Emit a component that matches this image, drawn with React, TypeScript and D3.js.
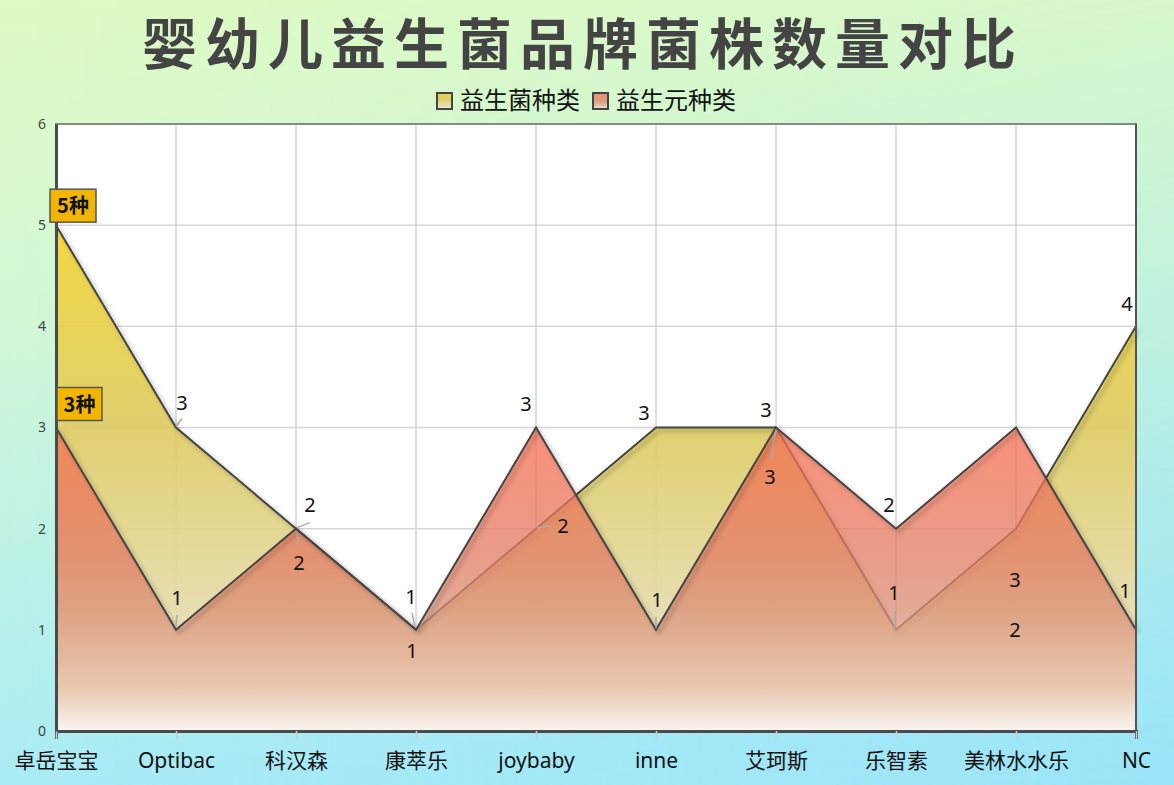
import * as d3 from 'd3';
import { useEffect, useRef } from 'react';

// chart data
const brands = ['卓岳宝宝', 'Optibac', '科汉森', '康萃乐', 'joybaby', 'inne', '艾珂斯', '乐智素', '美林水水乐', 'NC'];
const probioticCounts = [5, 3, 2, 1, 2, 3, 3, 1, 2, 4];
const prebioticCounts = [3, 1, 2, 1, 3, 1, 3, 2, 3, 1];
const seriesNames = ['益生菌种类', '益生元种类'];
const yTicks = [0, 1, 2, 3, 4, 5, 6];

// label layout (offset of label centre from its point, optional leader line)
type LabelPos = { dx: number; dy: number; leader?: [number, number, number, number] };
const probioticLabelPos: LabelPos[] = [
  { dx: 0, dy: 0 },
  { dx: 6, dy: -25, leader: [0, -1, 6, -9] },
  { dx: 14, dy: -24, leader: [1, -1, 14, -6] },
  { dx: -5, dy: -33, leader: [-1, -3, -4, -17] },
  { dx: 27, dy: -3, leader: [1, -1, 15, -3] },
  { dx: -12, dy: -15 },
  { dx: -10, dy: -18 },
  { dx: -2, dy: -37, leader: [-1, -2, -1, -18] },
  { dx: -1, dy: 101 },
  { dx: -9, dy: -23 },
];
const prebioticLabelPos: LabelPos[] = [
  { dx: 0, dy: 0 },
  { dx: 1, dy: -32, leader: [0, -4, 1, -15] },
  { dx: 3, dy: 34, leader: [1, 4, 2, 18] },
  { dx: -4, dy: 21 },
  { dx: -10, dy: -24 },
  { dx: 1, dy: -30, leader: [0, -2, 0, -13] },
  { dx: -6, dy: 49, leader: [0, 2, -5, 32] },
  { dx: -7, dy: -24 },
  { dx: -1, dy: 152 },
  { dx: -11, dy: -39 },
];

const W = 1174;
const H = 785;
const M = { left: 56, right: 1136, top: 124, bottom: 731 };
const FONT = '"Noto Sans", "Noto Sans CJK SC", sans-serif';
const CJK = '"Noto Sans CJK SC", "Noto Sans", sans-serif';

export default function App() {
  const ref = useRef<SVGSVGElement>(null);

  useEffect(() => {
    if (!ref.current) return;
    const svg = d3.select(ref.current);
    svg.selectAll('*').remove();

    const defs = svg.append('defs');

    // page background: mostly vertical green -> cyan, a bit bluer to the right
    const bg = defs.append('linearGradient').attr('id', 'bgV').attr('x1', 0).attr('y1', 0).attr('x2', 0.08).attr('y2', 1);
    bg.append('stop').attr('offset', 0).attr('stop-color', '#e0fbc4');
    bg.append('stop').attr('offset', 0.4).attr('stop-color', '#d2f8d6');
    bg.append('stop').attr('offset', 1).attr('stop-color', '#aaecf6');
    const bgH = defs.append('linearGradient').attr('id', 'bgH').attr('x1', 0).attr('y1', 0).attr('x2', 1).attr('y2', 0);
    bgH.append('stop').attr('offset', 0).attr('stop-color', '#7ad6ff').attr('stop-opacity', 0);
    bgH.append('stop').attr('offset', 1).attr('stop-color', '#7ad6ff').attr('stop-opacity', 0.3);
    const bgMask = defs.append('linearGradient').attr('id', 'bgMaskG').attr('x1', 0).attr('y1', 0).attr('x2', 0).attr('y2', 1);
    bgMask.append('stop').attr('offset', 0).attr('stop-color', '#fff').attr('stop-opacity', 0.2);
    bgMask.append('stop').attr('offset', 1).attr('stop-color', '#fff').attr('stop-opacity', 1);
    defs
      .append('mask')
      .attr('id', 'bgMask')
      .append('rect')
      .attr('width', W)
      .attr('height', H)
      .attr('fill', 'url(#bgMaskG)');

    // series gradients
    const gy = defs.append('linearGradient').attr('id', 'gYellow').attr('x1', 0).attr('y1', 0).attr('x2', 0).attr('y2', 1);
    [
      [0, 'rgb(240,213,52)'],
      [0.4, 'rgb(221,204,100)'],
      [0.8, 'rgb(230,221,178)'],
      [1, 'rgb(242,238,226)'],
    ].forEach(([o, c]) => gy.append('stop').attr('offset', o).attr('stop-color', c as string).attr('stop-opacity', 0.93));

    const gr = defs.append('linearGradient').attr('id', 'gRed').attr('x1', 0).attr('y1', 0).attr('x2', 0).attr('y2', 1);
    [
      [0, 'rgb(247,110,80)'],
      [0.43, 'rgb(226,124,100)'],
      [0.6, 'rgb(219,143,117)'],
      [0.86, 'rgb(231,190,167)'],
      [1, 'rgb(252,248,244)'],
    ].forEach(([o, c]) => gr.append('stop').attr('offset', o).attr('stop-color', c as string).attr('stop-opacity', 0.76));

    const shadow = defs.append('filter').attr('id', 'lineShadow').attr('x', '-10%').attr('y', '-10%').attr('width', '120%').attr('height', '120%');
    shadow.append('feDropShadow').attr('dx', 3).attr('dy', 3).attr('stdDeviation', 2).attr('flood-color', '#000').attr('flood-opacity', 0.3);

    svg.append('rect').attr('width', W).attr('height', H).attr('fill', 'url(#bgV)');
    svg.append('rect').attr('width', W).attr('height', H).attr('fill', 'url(#bgH)').attr('mask', 'url(#bgMask)');

    const x = d3.scalePoint<string>().domain(brands).range([M.left, M.right]);
    const y = d3.scaleLinear().domain([0, 6]).range([M.bottom, M.top]);

    // title
    svg
      .append('text')
      .attr('x', 583)
      .attr('y', 64)
      .attr('text-anchor', 'middle')
      .attr('font-family', CJK)
      .attr('font-weight', 700)
      .attr('font-size', 55)
      .attr('letter-spacing', 8)
      .attr('fill', '#444')
      .text('婴幼儿益生菌品牌菌株数量对比');

    // legend
    const legend = svg.append('g');
    const legendItems = [
      { name: seriesNames[0], fill: 'url(#gYellow)', x: 436 },
      { name: seriesNames[1], fill: 'url(#gRed)', x: 592 },
    ];
    legendItems.forEach((d) => {
      legend
        .append('rect')
        .attr('x', d.x + 1)
        .attr('y', 93)
        .attr('width', 15)
        .attr('height', 16)
        .attr('fill', d.fill)
        .attr('stroke', '#444')
        .attr('stroke-width', 2);
      legend
        .append('text')
        .attr('x', d.x + 24)
        .attr('y', 109)
        .attr('font-family', CJK)
        .attr('font-size', 24)
        .attr('fill', '#111')
        .text(d.name);
    });

    // plot background and grid
    svg
      .append('rect')
      .attr('x', M.left)
      .attr('y', M.top)
      .attr('width', M.right - M.left)
      .attr('height', M.bottom - M.top)
      .attr('fill', '#fff');

    const grid = svg.append('g').attr('stroke', '#d6d6d6').attr('stroke-width', 1.5);
    yTicks.forEach((t) => {
      grid.append('line').attr('x1', M.left).attr('x2', M.right).attr('y1', y(t)).attr('y2', y(t));
    });
    brands.forEach((b) => {
      grid.append('line').attr('x1', x(b)!).attr('x2', x(b)!).attr('y1', M.top).attr('y2', M.bottom);
    });

    const area = d3
      .area<number>()
      .x((_, i) => x(brands[i])!)
      .y0(y(0))
      .y1((d) => y(d));
    const line = d3
      .line<number>()
      .x((_, i) => x(brands[i])!)
      .y((d) => y(d));

    svg.append('path').attr('d', area(probioticCounts)!).attr('fill', 'url(#gYellow)');
    svg
      .append('path')
      .attr('d', line(probioticCounts)!)
      .attr('fill', 'none')
      .attr('stroke', '#444')
      .attr('stroke-width', 2)
      .attr('filter', 'url(#lineShadow)');

    svg.append('path').attr('d', area(prebioticCounts)!).attr('fill', 'url(#gRed)');
    svg
      .append('path')
      .attr('d', line(prebioticCounts)!)
      .attr('fill', 'none')
      .attr('stroke', '#444')
      .attr('stroke-width', 2)
      .attr('filter', 'url(#lineShadow)');

    // frame and axes
    svg
      .append('rect')
      .attr('x', M.left)
      .attr('y', M.top)
      .attr('width', M.right - M.left)
      .attr('height', M.bottom - M.top)
      .attr('fill', 'none')
      .attr('stroke', '#888')
      .attr('stroke-width', 2);
    svg
      .append('line')
      .attr('x1', M.right)
      .attr('x2', M.right)
      .attr('y1', M.top)
      .attr('y2', M.bottom)
      .attr('stroke', '#555')
      .attr('stroke-width', 2);

    const xAxis = svg
      .append('g')
      .attr('transform', `translate(0,${M.bottom})`)
      .call(d3.axisBottom(x).tickSize(8).tickPadding(14));
    xAxis.select('.domain').attr('stroke', '#4a4a4a').attr('stroke-width', 3);
    xAxis.selectAll('.tick line').attr('stroke', '#ccc').attr('stroke-width', 1.5);
    xAxis
      .selectAll('.tick text')
      .attr('font-family', FONT)
      .attr('font-size', 21)
      .attr('fill', '#111');

    const yAxis = svg
      .append('g')
      .attr('transform', `translate(${M.left},0)`)
      .call(d3.axisLeft(y).tickValues(yTicks).tickFormat(d3.format('d')).tickSize(0).tickPadding(10));
    yAxis.select('.domain').attr('stroke', '#4a4a4a').attr('stroke-width', 3);
    yAxis
      .selectAll('.tick text')
      .attr('font-family', FONT)
      .attr('font-size', 14)
      .attr('fill', '#444');

    // data labels
    const labels = svg.append('g');
    const drawLabels = (values: number[], pos: LabelPos[]) => {
      values.forEach((v, i) => {
        if (i === 0) return;
        const px = x(brands[i])!;
        const py = y(v);
        const p = pos[i];
        if (p.leader) {
          labels
            .append('line')
            .attr('x1', px + p.leader[0])
            .attr('y1', py + p.leader[1])
            .attr('x2', px + p.leader[2])
            .attr('y2', py + p.leader[3])
            .attr('stroke', '#aaa')
            .attr('stroke-width', 1.5);
        }
        labels
          .append('text')
          .attr('x', px + p.dx)
          .attr('y', py + p.dy)
          .attr('dy', '0.36em')
          .attr('text-anchor', 'middle')
          .attr('font-family', FONT)
          .attr('font-size', 20)
          .attr('fill', '#111')
          .text(v);
      });
    };
    drawLabels(probioticCounts, probioticLabelPos);
    drawLabels(prebioticCounts, prebioticLabelPos);

    // badges on the first brand
    const badges = [
      { v: probioticCounts[0], dx: -6, dy: -36, w: 46 },
      { v: prebioticCounts[0], dx: 1, dy: -40, w: 45 },
    ];
    badges.forEach((b) => {
      const px = x(brands[0])!;
      const py = y(b.v);
      labels
        .append('rect')
        .attr('x', px + b.dx)
        .attr('y', py + b.dy)
        .attr('width', b.w)
        .attr('height', 33)
        .attr('fill', '#f2b600')
        .attr('stroke', '#555')
        .attr('stroke-width', 1.5);
      labels
        .append('text')
        .attr('x', px + b.dx + b.w / 2)
        .attr('y', py + b.dy + 17)
        .attr('dy', '0.36em')
        .attr('text-anchor', 'middle')
        .attr('font-family', CJK)
        .attr('font-weight', 700)
        .attr('font-size', 20)
        .attr('fill', '#111')
        .text(`${b.v}种`);
    });
  }, []);

  return (
    <div style={{ position: 'absolute', left: 0, top: 0, width: W, height: H, overflow: 'hidden' }}>
      <svg ref={ref} width={W} height={H} viewBox={`0 0 ${W} ${H}`} style={{ display: 'block' }} />
    </div>
  );
}
